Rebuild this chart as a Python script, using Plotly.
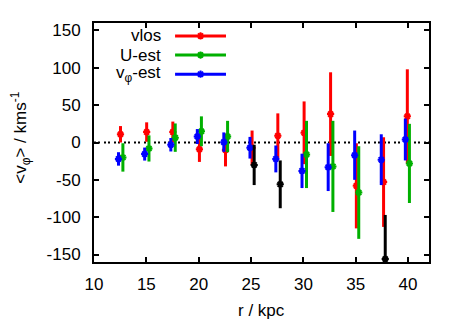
import plotly.graph_objects as go

# ---- data ----
# vlos (red)
r_vlos = [12.53, 15.03, 17.53, 20.07, 22.56, 25.1, 27.56, 30.07, 32.6, 35.06, 37.66, 39.93]
v_vlos = [11, 14, 14, -9, -10, -7, 9, 13, 38, -58, -53, 35]
e_vlos = [11, 13, 14, 17, 22, 23, 30, 42, 56, 57, 60, 63]

# U-est (green)
r_uest = [12.76, 15.25, 17.76, 20.26, 22.76, 30.3, 32.82, 35.29, 40.13]
v_uest = [-20, -8, 6.5, 15, 8, -16, -32, -67, -28]
e_uest = [19, 17.5, 19, 20, 21, 45, 61, 62, 53]

# v_phi-est (blue)
r_vphi = [12.34, 14.84, 17.34, 19.87, 22.4, 24.9, 27.37, 29.87, 32.37, 34.9, 37.44, 39.74]
v_vphi = [-22, -15.5, -3, 8, 0.5, -7, -22, -38, -33, -17, -23, 4]
e_vphi = [9, 8.7, 9, 10, 13, 14.5, 18, 23, 32, 33, 34, 28]

# black points (no legend entry)
r_blk = [25.3, 27.79, 37.82]
v_blk = [-30, -56, -156]
e_blk = [27, 32, 59]

x_ticks = [10, 15, 20, 25, 30, 35, 40]
y_ticks = [-150, -100, -50, 0, 50, 100, 150]

series = [
    ("vlos", r_vlos, v_vlos, e_vlos, "#ff0000"),
    ("U-est", r_uest, v_uest, e_uest, "#00b000"),
    ("v<sub>φ</sub>-est", r_vphi, v_vphi, e_vphi, "#0000ff"),
    ("", r_blk, v_blk, e_blk, "#000000"),
]

FONT = "Liberation Sans, Arial, sans-serif"
FS = 17

fig = go.Figure()

for name, xs, ys, es, col in series:
    fig.add_trace(go.Scatter(
        x=xs, y=ys, mode="markers",
        marker=dict(symbol="asterisk-open", size=6, color=col,
                    line=dict(color=col, width=2)),
        error_y=dict(type="data", array=es, visible=True,
                     color=col, thickness=3, width=0),
        showlegend=False))

# dotted zero line
fig.add_shape(type="line", xref="x domain", yref="y", x0=0, x1=1, y0=0, y1=0,
              line=dict(color="black", width=2, dash="2px,2px,2px,4px"), layer="below")

# hand-made legend (text right-aligned, sample line to its right)
legend_y = [0.946, 0.866, 0.786]
for (name, _, _, _, col), ly in zip(series[:3], legend_y):
    fig.add_annotation(xref="paper", yref="paper", x=0.207, y=ly, text=name,
                       showarrow=False, xanchor="right", yanchor="middle",
                       font=dict(family=FONT, size=FS, color="black"))
    fig.add_trace(go.Scatter(
        x=[0.242, 0.394], y=[ly, ly], xaxis="x2", yaxis="y2",
        mode="lines", line=dict(color=col, width=3), showlegend=False, hoverinfo="skip"))
    fig.add_trace(go.Scatter(
        x=[0.318], y=[ly], xaxis="x2", yaxis="y2", mode="markers",
        marker=dict(symbol="asterisk-open", size=6, color=col, line=dict(color=col, width=2)),
        showlegend=False, hoverinfo="skip"))

# axis titles as annotations for exact placement
fig.add_annotation(xref="paper", yref="paper", x=0.5, y=-0.205, text="r / kpc",
                   showarrow=False, xanchor="center", yanchor="middle",
                   font=dict(family=FONT, size=FS, color="black"))
fig.add_annotation(xref="paper", yref="paper", x=-0.218, y=0.52,
                   text="&lt;v<sub>φ</sub>&gt; / kms<sup>-1</sup>", textangle=-90,
                   showarrow=False, xanchor="center", yanchor="middle",
                   font=dict(family=FONT, size=FS, color="black"))

axis_common = dict(
    showline=True, linecolor="black", linewidth=2, mirror="ticks",
    ticks="inside", ticklen=5, tickwidth=1.5, tickcolor="black",
    showgrid=False, zeroline=False, automargin=False,
    tickfont=dict(family=FONT, size=FS, color="black"),
)

# the page body has an 8px margin, so the figure is shrunk to fit the window
fig.update_layout(
    width=455, height=316,
    margin=dict(l=86, r=34, t=15, b=62),
    paper_bgcolor="white", plot_bgcolor="white",
    font=dict(family=FONT, size=FS, color="black"),
    xaxis=dict(range=[10, 42], tickvals=x_ticks, ticktext=[str(v) for v in x_ticks],
               ticklabelstandoff=6, **axis_common),
    yaxis=dict(range=[-160, 160], tickvals=y_ticks, ticktext=[str(v) for v in y_ticks],
               ticklabelstandoff=8, **axis_common),
    xaxis2=dict(range=[0, 1], overlaying="x", visible=False),
    yaxis2=dict(range=[0, 1], overlaying="y", visible=False),
)

fig.write_html("out.html")
